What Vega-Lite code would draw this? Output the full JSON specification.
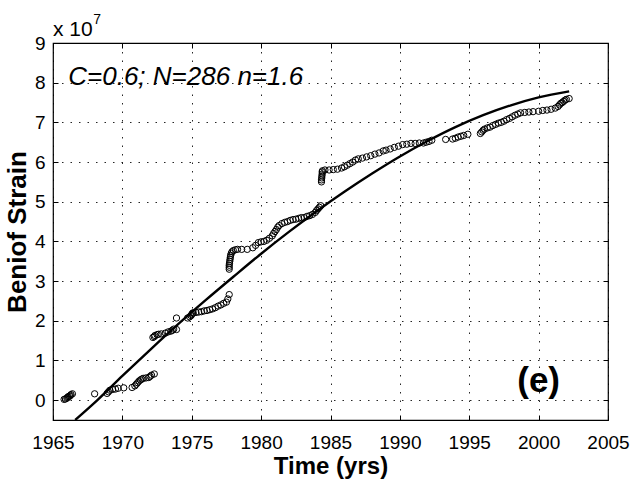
{
  "$schema": "https://vega.github.io/schema/vega-lite/v6.json",
  "width": 555,
  "height": 377,
  "autosize": {"type": "none"},
  "padding": {"left": 53, "top": 43, "right": 26, "bottom": 61},
  "background": "white",
  "config": {
    "font": "Liberation Sans",
    "view": {"stroke": "black", "strokeWidth": 1.2},
    "axis": {
      "labelFont": "Liberation Sans",
      "titleFont": "Liberation Sans",
      "labelColor": "black",
      "titleColor": "black",
      "labelFontSize": 19,
      "labelFlush": false,
      "labelOverlap": false,
      "titleFontWeight": "bold",
      "tickColor": "black",
      "domain": false,
      "gridColor": "black",
      "gridDash": [1.5, 7],
      "gridOpacity": 0.85,
      "gridWidth": 1
    }
  },
  "datasets": {
    "pts": [
      {"year": 1965.8, "strain": 0.02}, {"year": 1965.9, "strain": 0.03}, {"year": 1966.0, "strain": 0.05}, {"year": 1966.05, "strain": 0.07}, {"year": 1966.1, "strain": 0.09}, {"year": 1966.2, "strain": 0.1}, {"year": 1966.25, "strain": 0.12}, {"year": 1966.3, "strain": 0.14}, {"year": 1966.4, "strain": 0.16},
      {"year": 1968.0, "strain": 0.16},
      {"year": 1968.9, "strain": 0.17}, {"year": 1969.0, "strain": 0.21}, {"year": 1969.1, "strain": 0.25}, {"year": 1969.3, "strain": 0.27}, {"year": 1969.5, "strain": 0.28}, {"year": 1969.7, "strain": 0.3}, {"year": 1970.1, "strain": 0.31},
      {"year": 1970.7, "strain": 0.32}, {"year": 1970.9, "strain": 0.36}, {"year": 1971.0, "strain": 0.4}, {"year": 1971.1, "strain": 0.44}, {"year": 1971.2, "strain": 0.48}, {"year": 1971.3, "strain": 0.51}, {"year": 1971.4, "strain": 0.53}, {"year": 1971.5, "strain": 0.55}, {"year": 1971.7, "strain": 0.56}, {"year": 1971.9, "strain": 0.57}, {"year": 1972.0, "strain": 0.6}, {"year": 1972.1, "strain": 0.63}, {"year": 1972.3, "strain": 0.66},
      {"year": 1972.2, "strain": 1.58}, {"year": 1972.3, "strain": 1.6}, {"year": 1972.35, "strain": 1.63}, {"year": 1972.5, "strain": 1.65}, {"year": 1972.6, "strain": 1.66}, {"year": 1972.8, "strain": 1.67}, {"year": 1973.1, "strain": 1.69}, {"year": 1973.3, "strain": 1.72}, {"year": 1973.5, "strain": 1.74}, {"year": 1973.6, "strain": 1.76}, {"year": 1973.7, "strain": 1.79}, {"year": 1973.9, "strain": 1.78}, {"year": 1973.9, "strain": 2.07},
      {"year": 1974.7, "strain": 2.07}, {"year": 1974.85, "strain": 2.1}, {"year": 1974.95, "strain": 2.13}, {"year": 1975.0, "strain": 2.16}, {"year": 1975.05, "strain": 2.19}, {"year": 1975.1, "strain": 2.2}, {"year": 1975.3, "strain": 2.21}, {"year": 1975.5, "strain": 2.22}, {"year": 1975.7, "strain": 2.23}, {"year": 1975.9, "strain": 2.25}, {"year": 1976.1, "strain": 2.26}, {"year": 1976.3, "strain": 2.28}, {"year": 1976.5, "strain": 2.3}, {"year": 1976.7, "strain": 2.33}, {"year": 1976.9, "strain": 2.37}, {"year": 1977.1, "strain": 2.4}, {"year": 1977.3, "strain": 2.44}, {"year": 1977.5, "strain": 2.47}, {"year": 1977.6, "strain": 2.55}, {"year": 1977.7, "strain": 2.66},
      {"year": 1977.7, "strain": 3.3}, {"year": 1977.7, "strain": 3.35}, {"year": 1977.7, "strain": 3.4}, {"year": 1977.72, "strain": 3.45}, {"year": 1977.74, "strain": 3.5}, {"year": 1977.76, "strain": 3.55}, {"year": 1977.78, "strain": 3.6}, {"year": 1977.8, "strain": 3.65}, {"year": 1977.85, "strain": 3.7}, {"year": 1977.9, "strain": 3.74}, {"year": 1978.0, "strain": 3.77}, {"year": 1978.15, "strain": 3.79}, {"year": 1978.3, "strain": 3.8}, {"year": 1978.6, "strain": 3.8}, {"year": 1979.0, "strain": 3.8}, {"year": 1979.4, "strain": 3.84}, {"year": 1979.6, "strain": 3.9}, {"year": 1979.8, "strain": 3.97}, {"year": 1980.0, "strain": 3.99}, {"year": 1980.2, "strain": 4.0}, {"year": 1980.4, "strain": 4.03}, {"year": 1980.6, "strain": 4.08}, {"year": 1980.8, "strain": 4.14}, {"year": 1980.9, "strain": 4.2}, {"year": 1981.0, "strain": 4.25}, {"year": 1981.1, "strain": 4.3}, {"year": 1981.2, "strain": 4.36}, {"year": 1981.3, "strain": 4.4}, {"year": 1981.5, "strain": 4.45}, {"year": 1981.7, "strain": 4.48}, {"year": 1981.9, "strain": 4.5}, {"year": 1982.1, "strain": 4.53}, {"year": 1982.3, "strain": 4.55}, {"year": 1982.5, "strain": 4.56}, {"year": 1982.7, "strain": 4.58}, {"year": 1982.9, "strain": 4.6}, {"year": 1983.1, "strain": 4.6}, {"year": 1983.3, "strain": 4.63}, {"year": 1983.5, "strain": 4.65}, {"year": 1983.7, "strain": 4.68}, {"year": 1983.9, "strain": 4.73}, {"year": 1984.0, "strain": 4.78}, {"year": 1984.1, "strain": 4.82}, {"year": 1984.2, "strain": 4.86}, {"year": 1984.3, "strain": 4.9},
      {"year": 1984.35, "strain": 5.5}, {"year": 1984.35, "strain": 5.55}, {"year": 1984.37, "strain": 5.6}, {"year": 1984.38, "strain": 5.65}, {"year": 1984.4, "strain": 5.7}, {"year": 1984.4, "strain": 5.75}, {"year": 1984.42, "strain": 5.78}, {"year": 1984.6, "strain": 5.8}, {"year": 1984.9, "strain": 5.8}, {"year": 1985.2, "strain": 5.81}, {"year": 1985.5, "strain": 5.82}, {"year": 1985.8, "strain": 5.85}, {"year": 1986.0, "strain": 5.88}, {"year": 1986.2, "strain": 5.92}, {"year": 1986.4, "strain": 5.96}, {"year": 1986.6, "strain": 6.0}, {"year": 1986.8, "strain": 6.05}, {"year": 1987.0, "strain": 6.08}, {"year": 1987.3, "strain": 6.1}, {"year": 1987.6, "strain": 6.13}, {"year": 1987.9, "strain": 6.16}, {"year": 1988.2, "strain": 6.2}, {"year": 1988.5, "strain": 6.23}, {"year": 1988.8, "strain": 6.28}, {"year": 1989.0, "strain": 6.3}, {"year": 1989.3, "strain": 6.33}, {"year": 1989.6, "strain": 6.37}, {"year": 1989.9, "strain": 6.4}, {"year": 1990.2, "strain": 6.44}, {"year": 1990.5, "strain": 6.45}, {"year": 1990.8, "strain": 6.47}, {"year": 1991.1, "strain": 6.47}, {"year": 1991.4, "strain": 6.48}, {"year": 1991.7, "strain": 6.48}, {"year": 1991.9, "strain": 6.5}, {"year": 1992.1, "strain": 6.52}, {"year": 1992.3, "strain": 6.55},
      {"year": 1993.3, "strain": 6.57}, {"year": 1993.8, "strain": 6.58}, {"year": 1994.0, "strain": 6.6}, {"year": 1994.2, "strain": 6.63}, {"year": 1994.4, "strain": 6.65}, {"year": 1994.6, "strain": 6.67}, {"year": 1994.9, "strain": 6.7},
      {"year": 1995.8, "strain": 6.72}, {"year": 1995.9, "strain": 6.76}, {"year": 1996.0, "strain": 6.8}, {"year": 1996.1, "strain": 6.83}, {"year": 1996.3, "strain": 6.86}, {"year": 1996.5, "strain": 6.88}, {"year": 1996.7, "strain": 6.92}, {"year": 1996.9, "strain": 6.95}, {"year": 1997.1, "strain": 6.98}, {"year": 1997.3, "strain": 7.0}, {"year": 1997.5, "strain": 7.03}, {"year": 1997.7, "strain": 7.07}, {"year": 1997.9, "strain": 7.1}, {"year": 1998.1, "strain": 7.14}, {"year": 1998.3, "strain": 7.18}, {"year": 1998.5, "strain": 7.21}, {"year": 1998.7, "strain": 7.24},
      {"year": 1999.0, "strain": 7.25}, {"year": 1999.3, "strain": 7.26}, {"year": 1999.6, "strain": 7.27}, {"year": 2000.0, "strain": 7.28}, {"year": 2000.3, "strain": 7.3}, {"year": 2000.6, "strain": 7.31}, {"year": 2000.9, "strain": 7.33}, {"year": 2001.2, "strain": 7.36}, {"year": 2001.4, "strain": 7.4}, {"year": 2001.5, "strain": 7.44}, {"year": 2001.6, "strain": 7.48}, {"year": 2001.7, "strain": 7.5}, {"year": 2001.8, "strain": 7.53}, {"year": 2001.9, "strain": 7.56}, {"year": 2002.0, "strain": 7.58}, {"year": 2002.2, "strain": 7.6}
    ],
    "fit": [
      {"year": 1966.6, "strain": -0.5}, {"year": 1968.2, "strain": 0.0}, {"year": 1970, "strain": 0.61}, {"year": 1972, "strain": 1.27}, {"year": 1974, "strain": 1.91}, {"year": 1976, "strain": 2.52}, {"year": 1978, "strain": 3.11}, {"year": 1980, "strain": 3.69}, {"year": 1982, "strain": 4.24}, {"year": 1984, "strain": 4.76}, {"year": 1986, "strain": 5.25}, {"year": 1988, "strain": 5.71}, {"year": 1990, "strain": 6.14}, {"year": 1992, "strain": 6.53}, {"year": 1994, "strain": 6.88}, {"year": 1996, "strain": 7.18}, {"year": 1998, "strain": 7.43}, {"year": 2000, "strain": 7.63}, {"year": 2002.2, "strain": 7.78}
    ]
  },
  "layer": [
    {
      "data": {"name": "pts"},
      "mark": {"type": "point", "shape": "circle", "filled": false, "stroke": "black", "strokeWidth": 1, "size": 40, "opacity": 1},
      "encoding": {
        "x": {"field": "year", "type": "quantitative", "scale": {"domain": [1965, 2005], "nice": false, "zero": false},
          "axis": {"orient": "bottom", "title": "Time (yrs)", "titleFontSize": 24, "values": [1965, 1970, 1975, 1980, 1985, 1990, 1995, 2000, 2005], "format": "d", "grid": true, "ticks": true, "tickSize": -5, "labelPadding": 18, "titlePadding": 2}},
        "y": {"field": "strain", "type": "quantitative", "scale": {"domain": [-0.5, 9], "nice": false, "zero": false},
          "axis": {"orient": "left", "title": "Beniof Strain", "titleFontSize": 26, "values": [0, 1, 2, 3, 4, 5, 6, 7, 8, 9], "format": "d", "grid": true, "ticks": true, "tickSize": -5, "labelPadding": 13, "titlePadding": 4}}
      }
    },
    {
      "data": {"name": "fit"},
      "mark": {"type": "line", "color": "black", "strokeWidth": 2.4, "interpolate": "monotone"},
      "encoding": {
        "x": {"field": "year", "type": "quantitative", "axis": {"orient": "top", "title": null, "labels": false, "grid": false, "values": [1965, 1970, 1975, 1980, 1985, 1990, 1995, 2000, 2005], "tickSize": -5}},
        "y": {"field": "strain", "type": "quantitative", "axis": {"orient": "right", "title": null, "labels": false, "grid": false, "values": [0, 1, 2, 3, 4, 5, 6, 7, 8, 9], "tickSize": -5}}
      }
    },
    {
      "data": {"values": [{}]},
      "mark": {"type": "text", "text": "C=0.6; N=286 n=1.6", "font": "Liberation Sans", "fontStyle": "italic", "fontSize": 26, "align": "left", "baseline": "alphabetic", "color": "black"},
      "encoding": {"x": {"datum": 1966.1, "type": "quantitative", "axis": null}, "y": {"datum": 7.94, "type": "quantitative", "axis": null}}
    },
    {
      "data": {"values": [{}]},
      "mark": {"type": "text", "text": "(e)", "font": "Liberation Sans", "fontWeight": "bold", "fontSize": 35, "align": "center", "baseline": "alphabetic", "color": "black"},
      "encoding": {"x": {"datum": 2000, "type": "quantitative", "axis": null}, "y": {"datum": 0.2, "type": "quantitative", "axis": null}}
    },
    {
      "data": {"values": [{}]},
      "mark": {"type": "text", "text": "x 10", "font": "Liberation Sans", "fontSize": 21, "align": "left", "baseline": "alphabetic", "color": "black"},
      "encoding": {"x": {"datum": 1965, "type": "quantitative", "axis": null}, "y": {"datum": 9.18, "type": "quantitative", "axis": null}}
    },
    {
      "data": {"values": [{}]},
      "mark": {"type": "text", "text": "7", "font": "Liberation Sans", "fontSize": 14, "align": "left", "baseline": "alphabetic", "color": "black"},
      "encoding": {"x": {"datum": 1967.9, "type": "quantitative", "axis": null}, "y": {"datum": 9.48, "type": "quantitative", "axis": null}}
    }
  ],
  "resolve": {"axis": {"x": "independent", "y": "independent"}}
}
